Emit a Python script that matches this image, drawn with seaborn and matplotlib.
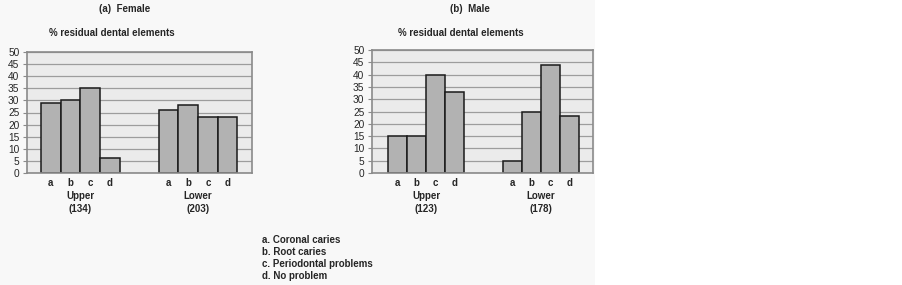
#gráfico de barras: % de elementos dentais residuais por sexo (feminino / masculino)
import matplotlib
matplotlib.use("Agg")
import matplotlib.pyplot as plt
import seaborn as sns
import pandas as pd
from matplotlib.patches import Rectangle

sns.set_style("white")
plt.rcParams["font.family"] = ["Liberation Sans", "DejaVu Sans"]

#dados
categorias = ["a", "b", "c", "d"]
grupos = ["Upper", "Lower"]
feminino_upper = [29, 30, 35, 6]
feminino_lower = [26, 28, 23, 23]
masculino_upper = [15, 15, 40, 33]
masculino_lower = [5, 25, 44, 23]
n_feminino = [134, 203]
n_masculino = [123, 178]
legenda = ["a. Coronal caries", "b. Root caries", "c. Periodontal problems", "d. No problem"]

#ordem das colunas: 4 barras, 2 espaços vazios, 4 barras
ordem = [f"Upper-{c}" for c in categorias] + ["gap1", "gap2"] + [f"Lower-{c}" for c in categorias]


def monta_df(upper, lower):
    linhas = []
    for g, vals in zip(grupos, [upper, lower]):
        for c, v in zip(categorias, vals):
            linhas.append({"slot": f"{g}-{c}", "valor": v})
    return pd.DataFrame(linhas)


def desenha(ax, df, ns, xlim):
    sns.barplot(data=df, x="slot", y="valor", order=ordem, color="#b2b2b2",
                saturation=1, edgecolor="#1a1a1a", linewidth=1.1, width=1.0, ax=ax)
    ax.set_facecolor("#ebebeb")
    ax.set_ylim(0, 50)
    ax.set_xlim(*xlim)
    ax.set_yticks(range(0, 51, 5))
    ax.yaxis.grid(True, color="#9c9c9c", lw=0.9)
    ax.set_axisbelow(True)
    for s in ax.spines.values():
        s.set_color("#8a8a8a")
        s.set_linewidth(1.2)
    rotulos = [s.split("-")[1] if "-" in s else "" for s in ordem]
    ax.set_xticks(range(len(ordem)))
    ax.set_xticklabels(rotulos, fontsize=7, fontweight="bold")
    ax.tick_params(axis="x", length=0, pad=3.5)
    ax.tick_params(axis="y", length=3, width=0.8, color="#8a8a8a", pad=2.5, labelsize=7.3, left=True)
    ax.set_xlabel("")
    ax.set_ylabel("")
    #rótulos dos grupos (Upper / Lower) com o n
    for i, (g, n) in enumerate(zip(grupos, ns)):
        centro = 1.5 + i * 6
        ax.annotate(f"{g}\n({n})", xy=(centro, 0), xycoords=("data", "axes fraction"),
                    xytext=(0, -13.3), textcoords="offset points", ha="center", va="top",
                    fontsize=7, fontweight="bold", linespacing=1.35)


fig = plt.figure(figsize=(9.03, 2.85), dpi=100)
fig.patch.set_facecolor("white")
fig.patches.append(Rectangle((0, 0), 595 / 903, 1, transform=fig.transFigure,
                             facecolor="#f8f8f8", edgecolor="none", zorder=-10))

ax1 = fig.add_axes([27 / 903, 1 - 173 / 285, 225 / 903, 121 / 285])
ax2 = fig.add_axes([372 / 903, 1 - 173 / 285, 221 / 903, 123 / 285])

desenha(ax1, monta_df(feminino_upper, feminino_lower), n_feminino, (-1.22, 10.25))
desenha(ax2, monta_df(masculino_upper, masculino_lower), n_masculino, (-1.33, 10.23))

#títulos
fig.text(125 / 903, 1 - 9 / 285, "(a)  Female", ha="center", va="center", fontsize=7, fontweight="bold")
fig.text(112 / 903, 1 - 33 / 285, "% residual dental elements", ha="center", va="center", fontsize=7, fontweight="bold")
fig.text(470 / 903, 1 - 9 / 285, "(b)  Male", ha="center", va="center", fontsize=7, fontweight="bold")
fig.text(461 / 903, 1 - 33 / 285, "% residual dental elements", ha="center", va="center", fontsize=7, fontweight="bold")

#legenda das categorias
for i, t in enumerate(legenda):
    fig.text(262 / 903, 1 - (240 + 12 * i) / 285, t, ha="left", va="center", fontsize=7, fontweight="bold")

fig.savefig("out.png", dpi=100, facecolor=fig.get_facecolor())
